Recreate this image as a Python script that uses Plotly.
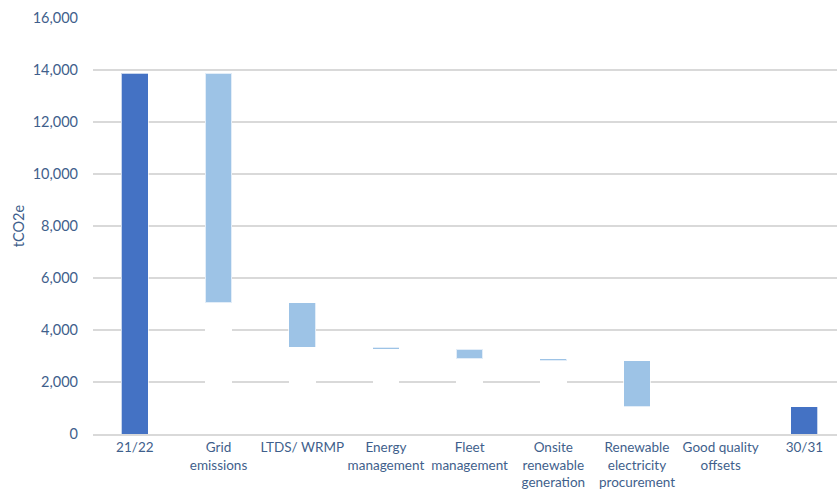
import plotly.graph_objects as go

# Emissions pathway from 21/22 baseline to 30/31 (tCO2e)
categories = [
    "21/22",
    "Grid<br>emissions",
    "LTDS/ WRMP",
    "Energy<br>management",
    "Fleet<br>management",
    "Onsite<br>renewable<br>generation",
    "Renewable<br>electricity<br>procurement",
    "Good quality<br>offsets",
    "30/31",
]
# Totals are absolute values; reductions are negative changes
values = [13870, -8820, -1715, -80, -370, -70, -1765, 0, 1050]
kinds = ["total", "delta", "delta", "delta", "delta", "delta", "delta", "delta", "total"]

TOTAL_COLOR = "#4472C4"
DELTA_COLOR = "#9DC3E6"
TEXT_COLOR = "#3F5F8C"
GRID_COLOR = "#D9D9D9"

# Build the floating-bar layout: a white spacer bar under each reduction
spacer, heights, colors = [], [], []
running = 0
for v, k in zip(values, kinds):
    if k == "total":
        running = v
        spacer.append(0)
        heights.append(v)
        colors.append(TOTAL_COLOR)
    else:
        new = running + v
        spacer.append(min(running, new))
        heights.append(abs(v))
        colors.append(DELTA_COLOR)
        running = new

fig = go.Figure()
fig.add_trace(go.Bar(
    x=categories, y=spacer,
    marker=dict(color="white", line=dict(width=0)),
    width=0.32, hoverinfo="skip", showlegend=False,
))
fig.add_trace(go.Bar(
    x=categories, y=heights,
    marker=dict(color=colors, line=dict(color="rgba(255,255,255,0.7)", width=1)),
    width=0.32, showlegend=False,
))

fig.update_layout(
    barmode="stack",
    width=837, height=498,
    margin=dict(l=93, r=0, t=18, b=64),
    plot_bgcolor="white", paper_bgcolor="white",
    font=dict(family="Lato", color=TEXT_COLOR),
)
fig.update_xaxes(
    range=[-0.5, 8.39],
    tickfont=dict(size=13.5, color=TEXT_COLOR),
    showgrid=False,
    showline=True, linecolor=GRID_COLOR, linewidth=1.5,
    ticks="", fixedrange=True,
)
fig.update_yaxes(
    range=[0, 16000],
    tickvals=list(range(0, 16001, 2000)),
    tickformat=",",
    tickfont=dict(size=14.5, color=TEXT_COLOR),
    ticklabelstandoff=14,
    showgrid=True, gridcolor=GRID_COLOR, gridwidth=1.5,
    zeroline=False,
    title=dict(text="tCO2e", font=dict(size=14.5, color=TEXT_COLOR), standoff=4),
)

fig.write_html("out.html")
